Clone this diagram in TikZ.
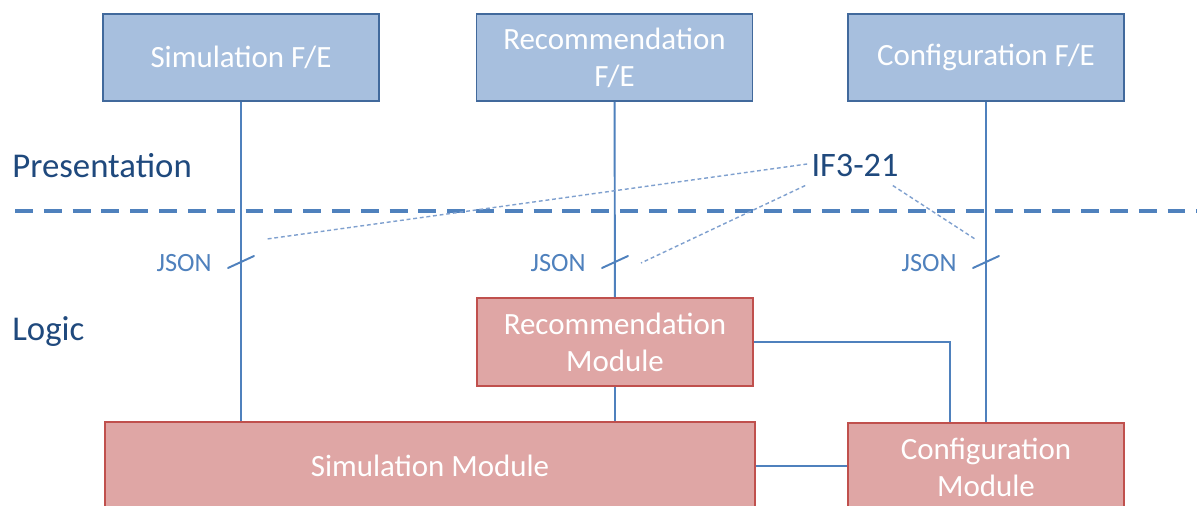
\documentclass[tikz,border=0pt]{standalone}
\usepackage{fontspec}
\setmainfont{Carlito}
\usepackage{xcolor}
\usepackage{tikz}
\usetikzlibrary{calc}
\definecolor{febg}{HTML}{A7BFDE}
\definecolor{fedraw}{HTML}{41699C}
\definecolor{modbg}{HTML}{DFA6A5}
\definecolor{moddraw}{HTML}{C0504D}
\definecolor{wire}{HTML}{4F81BD}
\definecolor{note}{HTML}{7FA0CF}
\definecolor{layer}{HTML}{1F497D}
\tikzset{
  fe/.style={draw=fedraw, fill=febg, line width=1.1pt, minimum width=5.52cm, minimum height=1.74cm,
    text=white, align=center, font=\fontsize{17.6}{21}\selectfont, inner sep=0pt},
  mod/.style={draw=moddraw, fill=modbg, line width=1.1pt, minimum height=1.76cm,
    text=white, align=center, font=\fontsize{17.6}{21}\selectfont, inner sep=0pt},
  link/.style={draw=wire, line width=1.1pt},
  tick/.style={draw=wire, line width=1.1pt, line cap=round},
  split/.style={draw=wire, line width=2.8pt, dash pattern=on 10.2pt off 6.2pt},
  hint/.style={draw=note, line width=0.8pt, dash pattern=on 2.2pt off 1.6pt},
  layerlab/.style={text=layer, font=\fontsize{19.8}{21}\selectfont, anchor=west, inner sep=0pt},
  json/.style={text=wire, font=\fontsize{15}{17}\selectfont, anchor=east, inner sep=0pt},
}
\begin{document}
\begin{tikzpicture}[x=0.02cm, y=-0.02cm]
  \clip (0,0) rectangle (1197,506);
  \fill[white] (0,0) rectangle (1197,506);

  % front ends
  \node[fe] (simfe) at (241,57.5) {Simulation F/E};
  \node[fe] (recfe) at (614.5,57.5) {Recommendation\\F/E};
  \node[fe] (conffe) at (986,57.5) {Configuration F/E};

  % modules
  \node[mod, minimum width=5.52cm] (recmod) at (615,342) {Recommendation\\Module};
  \node[mod, minimum width=13cm] (simmod) at (430,466) {Simulation Module};
  \node[mod, minimum width=5.52cm] (confmod) at (986,467) {Configuration\\Module};

  % layers
  \node[layerlab] (pres) at (12,166) {Presentation};
  \node[layerlab] (logic) at (12,332) {Logic};
  \coordinate (splitL) at (15,211);
  \coordinate (splitR) at (1197,211);
  \draw[split] (splitL) -- (splitR);

  % wires
  \draw[link] (simfe.south) -- (simfe.south |- simmod.north);
  \draw[link] (recfe) -- (recmod);
  \draw[link] (recmod.south) -- (recmod.south |- simmod.north);
  \draw[link] (conffe) -- (confmod);
  \coordinate (bend) at (950,342);
  \draw[link] (recmod.east) -- (bend) -- (bend |- confmod.north);
  \draw[link] (simmod.east) -- (simmod.east -| confmod.west);

  % JSON marks
  \foreach \x/\n in {241/a, 615/b, 986/c} {
    \coordinate (j\n) at (\x,262);
    \draw[tick] ($(j\n)+(-13,6)$) -- ($(j\n)+(13,-6)$);
    \node[json] (json\n) at ($(j\n)+(-29,1)$) {JSON};
  }

  % interface
  \node[text=layer, font=\fontsize{19.5}{21}\selectfont, inner sep=0pt] (if) at (855,166) {IF3-21};
  \coordinate (ifa) at (267,239);
  \coordinate (ifb) at (641,263);
  \coordinate (ifc) at (975,239);
  \draw[hint] ($(if.west)+(-4,-2)$) -- (ifa);
  \draw[hint] ($(if.south west)+(-6,8)$) -- (ifb);
  \draw[hint] ($(if.south east)+(-6,8)$) -- (ifc);
\end{tikzpicture}
\end{document}
